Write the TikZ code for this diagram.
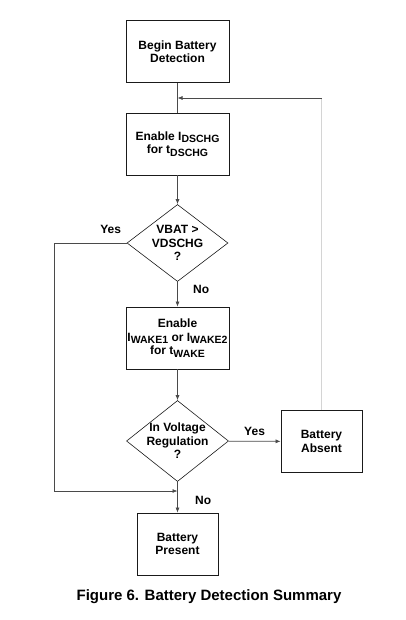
\documentclass[tikz,border=0pt]{standalone}
\usepackage{fontspec}
\setmainfont{Liberation Sans}
\usepackage{tikz}
\usetikzlibrary{positioning, shapes.geometric, arrows.meta}
\definecolor{flowLine}{HTML}{4A4A4A}
\definecolor{flowBack}{HTML}{D4D4D4}
\definecolor{flowEdge}{HTML}{1A1A1A}
\newcommand{\lowsub}[1]{\raisebox{-2.5pt}{\fontsize{10.5}{12}\selectfont #1}}

\begin{document}
\begin{tikzpicture}[x=1pt, y=-1pt, font=\fontsize{12}{13.5}\selectfont\bfseries,
  stepbox/.style={draw=flowEdge, line width=0.8pt, minimum width=103pt, minimum height=62pt, align=center, inner sep=0pt},
  decision/.style={diamond, draw=flowEdge, line width=0.6pt, aspect=1.3, inner sep=-8pt, align=center},
  flow/.style={draw=flowLine, line width=0.7pt, -{Latex[length=5pt, width=4pt]}},
  plain/.style={draw=flowLine, line width=0.7pt}]
  \useasboundingbox (0,0) rectangle (406,620);
  \foreach \nm/\x/\y/\w/\txt in {
    begin/177.5/51.5/103/{Begin Battery\\Detection},
    dschg/177.5/144/103/{Enable I\lowsub{DSCHG}\\for t\lowsub{DSCHG}},
    wake/177.5/338/103/{Enable\\I\lowsub{WAKE1} or I\lowsub{WAKE2}\\for t\lowsub{WAKE}},
    absent/321.5/441.5/81/{Battery\\Absent},
    present/177.5/544/81/{Battery\\Present}}{
    \node[stepbox, minimum width=\w pt] (\nm) at (\x,\y) {\txt};
  }
  \node[decision, minimum width=101pt, minimum height=77pt] (vbat) at (177.5,243) {VBAT >\\VDSCHG\\?};
  \node[decision, minimum width=102pt, minimum height=81pt] (reg) at (177.5,441) {In Voltage\\Regulation\\?};
  \coordinate (join) at (177.5,98);
  \coordinate (back) at (absent.north |- join);
  \coordinate (yesturn) at (54,243);
  \coordinate (yesdown) at (54,491);
  \coordinate (merge) at (177.5,491);

  \draw[plain] (begin) -- (dschg);
  \draw[flow] (dschg) -- (vbat);
  \draw[flow] (vbat) -- (wake) node[pos=0.3, right=12pt] {No};
  \draw[flow] (wake) -- (reg);
  \draw[flow] (reg) -- (absent) node[midway, above=2pt] {Yes};
  \draw[flow] (reg) -- (present) node[pos=0.6, right=14pt] {No};
  \draw[plain] (vbat.west) -- (yesturn) node[pos=0.22, above=6pt] {Yes};
  \draw[flow] (yesturn) -- (yesdown) -- (merge);
  \draw[draw=flowBack, line width=0.7pt] (absent.north) -- (back);
  \draw[flow] (back) -- (join);

  \node[font=\fontsize{15}{18}\selectfont\bfseries] (caption) at (209,597) {Figure 6. Battery Detection Summary};
\end{tikzpicture}
\end{document}
